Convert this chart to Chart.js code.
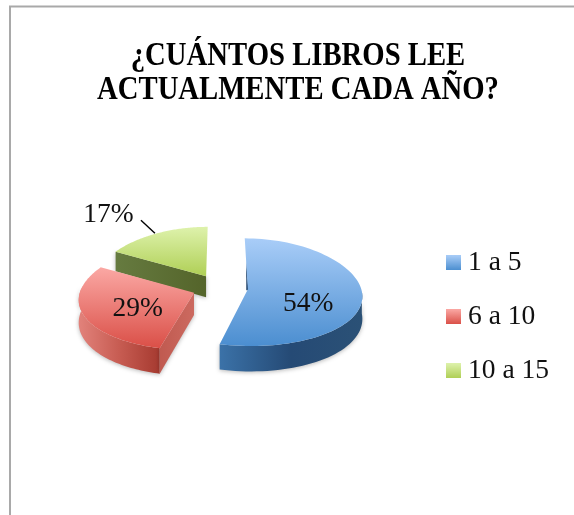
<!DOCTYPE html>
<html><head><meta charset="utf-8">
<style>html,body{margin:0;padding:0;background:#fff}canvas{display:block}</style>
<script src="https://cdn.jsdelivr.net/npm/chart.js@4"></script>
</head><body>
<canvas id="c" width="574" height="515"></canvas>
<script>
const titleLines = ['¿CUÁNTOS LIBROS LEE', 'ACTUALMENTE CADA AÑO?'];
const categories = ['1 a 5', '6 a 10', '10 a 15'];
const shares = [54, 29, 17];

const FONT = '"Liberation Serif", serif';
const topGradients = [['#a9cdf8', '#4b8ed0'], ['#fba8a4', '#da4f47'], ['#def2ac', '#afcf55']];
const wallGradients = [['#3b72a8', '#254a75', '#2b5176'], ['#e2827b', '#c75c52', '#a63a30'], ['#6a8043', '#55652a']];
const edgeGradients = [['#2a5078', '#2a5078'], ['#c05a50', '#cc6a60'], ['#667b40', '#54642a']];

function swatch(colors) {
  const s = document.createElement('canvas');
  s.width = 15; s.height = 15;
  const x = s.getContext('2d');
  const g = x.createLinearGradient(0, 0, 0, 15);
  g.addColorStop(0, colors[0]); g.addColorStop(1, colors[1]);
  x.fillStyle = g; x.fillRect(0, 0, 15, 15);
  return s;
}
const swatches = topGradients.map(swatch);

// Pie plane -> screen: tilted view with mild perspective
const CX = 220, CY = 287.5;
const project = (px, py) => ({
  x: CX + px * (1 + 0.001 * py),
  y: CY + py * 0.475 * (1 + 0.0005 * py)
});
const depthAt = y => 22 + (y - 290) * 0.06;

function linear(ctx, x0, y0, x1, y1, colors) {
  const g = ctx.createLinearGradient(x0, y0, x1, y1);
  colors.forEach((c, i) => g.addColorStop(colors.length > 1 ? i / (colors.length - 1) : 0, c));
  return g;
}
function trace(ctx, pts) {
  ctx.beginPath();
  pts.forEach((p, i) => i ? ctx.lineTo(p.x, p.y) : ctx.moveTo(p.x, p.y));
  ctx.closePath();
}
const extrude = pts => pts.map(p => ({x: p.x, y: p.y + depthAt(p.y)}));

const pie3d = {
  id: 'pie3d',
  beforeDraw(chart) {
    const c = chart.ctx;
    c.save();
    c.strokeStyle = '#a9a9a9';
    c.lineWidth = 2;
    c.beginPath();
    c.moveTo(10, 515); c.lineTo(10, 6.5); c.lineTo(574, 6.5);
    c.stroke();
    c.restore();
    // the reference title face is condensed: narrow the library's title block around its centre
    const block = chart.titleBlock;
    if (!block.$condensed) {
      const draw = block.draw.bind(block);
      block.draw = function () {
        const mid = (block.left + block.right) / 2;
        const cx = block.ctx;
        cx.save();
        cx.translate(mid, 0); cx.scale(0.87, 1); cx.translate(-mid, 0);
        draw();
        cx.restore();
      };
      block.$condensed = true;
    }
  },
  beforeDatasetsDraw(chart) {
    const c = chart.ctx;
    const arcs = chart.getDatasetMeta(0).data;
    const TWO = Math.PI * 2;
    for (let i = arcs.length - 1; i >= 0; i--) {
      const a = arcs[i].getProps(['startAngle', 'endAngle', 'outerRadius']);
      const off = arcs[i].options.offset / 2;
      const mid = (a.startAngle + a.endAngle) / 2;
      const ox = Math.cos(mid) * off, oy = Math.sin(mid) * off;
      const R = a.outerRadius;
      const at = (ang, r) => project(ox + Math.cos(ang) * r, oy + Math.sin(ang) * r);
      const apex = project(ox, oy);
      const rim = [];
      const N = 80;
      for (let k = 0; k <= N; k++) rim.push(at(a.startAngle + (a.endAngle - a.startAngle) * k / N, R));
      const ys = rim.map(p => p.y).concat(apex.y);
      const minY = Math.min(...ys), maxY = Math.max(...ys);

      c.save();
      c.shadowColor = 'rgba(0,0,0,0.28)';
      c.shadowBlur = 4;
      c.shadowOffsetY = 1;

      // outer wall: the part of the rim that faces the viewer
      const front = [];
      for (let k = 0; k <= N; k++) {
        const ang = a.startAngle + (a.endAngle - a.startAngle) * k / N;
        const nrm = ((ang % TWO) + TWO) % TWO;
        if (nrm >= -0.02 && nrm <= Math.PI + 0.1) front.push(at(ang, R));
      }
      if (front.length > 1) {
        trace(c, front.concat(extrude(front).reverse()));
        const fx = front.map(p => p.x);
        c.fillStyle = linear(c, Math.min(...fx), 0, Math.max(...fx), 0, wallGradients[i]);
        c.fill();
      }
      // radial walls facing the viewer
      [[a.startAngle, -1], [a.endAngle, 1]].forEach(([ang, side]) => {
        if (side * Math.cos(ang) > 0.01) {
          const e = at(ang, R);
          const line = [apex, e];
          trace(c, line.concat(extrude(line).reverse()));
          c.fillStyle = linear(c, Math.min(e.x, apex.x), 0, Math.max(e.x, apex.x), 0, edgeGradients[i]);
          c.fill();
        }
      });
      // thin sliver of the far wall seen next to the top of a cut face
      if (i === 0) {
        const far = at(a.startAngle, R * 0.55);
        trace(c, [far, {x: apex.x + 0.5, y: apex.y + 1}, {x: apex.x - 1.6, y: apex.y + 1}]);
        c.shadowColor = 'transparent';
        c.fillStyle = '#24466c';
        c.fill();
      }
      c.restore();

      // top face
      c.save();
      trace(c, [apex].concat(rim));
      c.fillStyle = linear(c, 0, minY, 0, maxY, topGradients[i]);
      c.fill();
      c.restore();
    }

    // value labels and the leader line of the outside label
    c.save();
    c.fillStyle = '#111';
    c.font = '27.5px ' + FONT;
    c.textAlign = 'center';
    c.textBaseline = 'middle';
    const total = shares.reduce((s, v) => s + v, 0);
    const placeAt = [{f: 0.53, dy: 11}, {f: 0.52, dy: 5}, null];
    arcs.forEach((arc, i) => {
      const a = arc.getProps(['startAngle', 'endAngle', 'outerRadius']);
      const off = arc.options.offset / 2, mid = (a.startAngle + a.endAngle) / 2;
      const txt = Math.round(shares[i] / total * 100) + '%';
      const dirX = Math.cos(mid), dirY = Math.sin(mid);
      if (placeAt[i]) {
        const r = off + a.outerRadius * placeAt[i].f;
        const p = project(dirX * r, dirY * r);
        c.fillText(txt, p.x, p.y + placeAt[i].dy);
      } else {
        const r = off + a.outerRadius;
        const edge = project(dirX * r, dirY * r);
        c.strokeStyle = '#000';
        c.lineWidth = 1.4;
        c.beginPath();
        c.moveTo(edge.x - 16, edge.y - 13);
        c.lineTo(edge.x - 2, edge.y);
        c.stroke();
        c.fillText(txt, edge.x - 48.5, edge.y - 19);
      }
    });
    c.restore();
    return false;
  }
};

new Chart(document.getElementById('c'), {
  type: 'pie',
  plugins: [pie3d],
  data: {
    labels: categories,
    datasets: [{
      data: shares,
      backgroundColor: topGradients.map(g => g[1]),
      borderWidth: 0,
      offset: 56,
      radius: 113
    }]
  },
  options: {
    responsive: false,
    animation: false,
    layout: {padding: {left: 37, right: 15, top: 34, bottom: 104}},
    plugins: {
      tooltip: {enabled: false},
      title: {
        display: true,
        text: titleLines,
        color: '#000',
        font: {family: FONT, size: 33, weight: 'bold', lineHeight: 1.03},
        padding: {top: 5, bottom: 10}
      },
      legend: {
        position: 'right',
        align: 'end',
        labels: {
          color: '#111',
          font: {family: FONT, size: 27.5},
          padding: 26.5,
          usePointStyle: true,
          pointStyleWidth: 1,
          generateLabels(chart) {
            return Chart.overrides.doughnut.plugins.legend.labels.generateLabels(chart)
              .map((l, i) => ({...l, pointStyle: swatches[i]}));
          }
        }
      }
    }
  }
});
</script>
</body></html>
